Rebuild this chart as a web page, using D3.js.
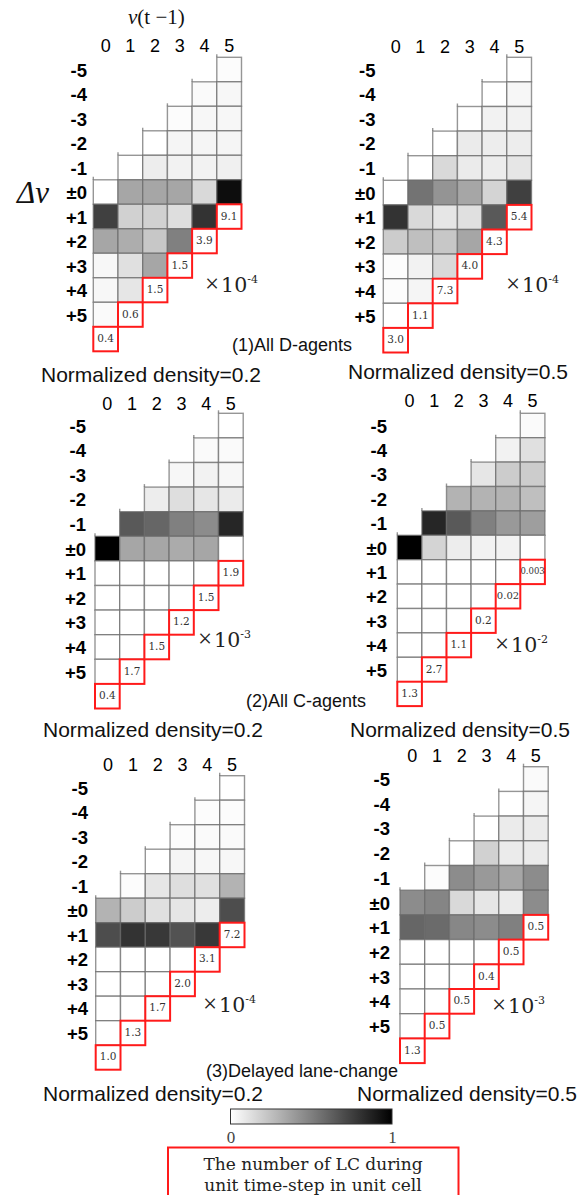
<!DOCTYPE html>
<html><head><meta charset="utf-8">
<script src="https://cdn.jsdelivr.net/npm/d3@7"></script>
<style>body{margin:0;background:#fff} svg{display:block}</style>
</head><body>
<svg id="chart" width="585" height="1195"></svg>
<script>
// ---------- DATA ----------
const vPrev = [0, 1, 2, 3, 4, 5];
const dvRows = [-5, -4, -3, -2, -1, 0, 1, 2, 3, 4, 5, 6];
const dvLabels = {"-5":"-5","-4":"-4","-3":"-3","-2":"-2","-1":"-1","0":"\u00b10","1":"+1","2":"+2","3":"+3","4":"+4","5":"+5","6":""};

// each column c lists normalized cell values for Δv = -c ... 5-c
const dAgents02 = [
  [0.00, 0.75, 0.35, 0.03, 0.03, 0.02],
  [0.00, 0.35, 0.18, 0.32, 0.12, 0.10],
  [0.00, 0.07, 0.35, 0.18, 0.22, 0.35],
  [0.01, 0.04, 0.05, 0.35, 0.13, 0.50],
  [0.02, 0.03, 0.04, 0.05, 0.15, 0.80],
  [0.01, 0.03, 0.03, 0.04, 0.06, 0.95]
];
const dAgents02LC = ["0.4", "0.6", "1.5", "1.5", "3.9", "9.1"];

const dAgents05 = [
  [0.00, 0.80, 0.20, 0.01, 0.01, 0.00],
  [0.00, 0.55, 0.15, 0.25, 0.05, 0.04],
  [0.00, 0.15, 0.42, 0.10, 0.22, 0.15],
  [0.00, 0.08, 0.08, 0.35, 0.12, 0.35],
  [0.00, 0.05, 0.07, 0.07, 0.17, 0.65],
  [0.00, 0.03, 0.05, 0.07, 0.10, 0.75]
];
const dAgents05LC = ["3.0", "1.1", "7.3", "4.0", "4.3", "5.4"];

const cAgents02 = [
  [1.00, 0.00, 0.00, 0.00, 0.00, 0.00],
  [0.65, 0.35, 0.00, 0.00, 0.00, 0.00],
  [0.07, 0.60, 0.35, 0.00, 0.00, 0.00],
  [0.03, 0.13, 0.50, 0.33, 0.00, 0.00],
  [0.02, 0.05, 0.10, 0.45, 0.35, 0.00],
  [0.00, 0.02, 0.03, 0.08, 0.85, 0.00]
];
const cAgents02LC = ["0.4", "1.7", "1.5", "1.2", "1.5", "1.9"];

const cAgents05 = [
  [1.00, 0.00, 0.00, 0.00, 0.00, 0.00],
  [0.85, 0.17, 0.00, 0.00, 0.00, 0.00],
  [0.30, 0.65, 0.07, 0.00, 0.00, 0.00],
  [0.10, 0.30, 0.50, 0.05, 0.00, 0.00],
  [0.05, 0.20, 0.30, 0.40, 0.05, 0.00],
  [0.02, 0.12, 0.20, 0.25, 0.38, 0.00]
];
const cAgents05LC = ["1.3", "2.7", "1.1", "0.2", "0.02", "0.003"];

const delayed02 = [
  [0.30, 0.70, 0.00, 0.00, 0.00, 0.00],
  [0.01, 0.20, 0.80, 0.00, 0.00, 0.00],
  [0.00, 0.10, 0.12, 0.78, 0.00, 0.00],
  [0.01, 0.04, 0.13, 0.10, 0.68, 0.00],
  [0.01, 0.02, 0.03, 0.12, 0.07, 0.78],
  [0.00, 0.01, 0.02, 0.03, 0.30, 0.70]
];
const delayed02LC = ["1.0", "1.3", "1.7", "2.0", "3.1", "7.2"];

const delayed05 = [
  [0.45, 0.60, 0.00, 0.00, 0.00, 0.00],
  [0.01, 0.48, 0.58, 0.00, 0.00, 0.00],
  [0.00, 0.45, 0.15, 0.47, 0.00, 0.00],
  [0.00, 0.18, 0.40, 0.10, 0.45, 0.00],
  [0.00, 0.08, 0.08, 0.35, 0.08, 0.50],
  [0.02, 0.04, 0.08, 0.08, 0.45, 0.45]
];
const delayed05LC = ["1.3", "0.5", "0.5", "0.4", "0.5", "0.5"];

const exponents = ["-4", "-4", "-3", "-2", "-4", "-3"];
const groupTitles = ["(1)All D-agents", "(2)All C-agents", "(3)Delayed lane-change"];
const densityLabels = ["Normalized density=0.2", "Normalized density=0.5"];
const colorbarTicks = [0, 1];
const legendLines = ["The number of LC during", "unit time-step in unit cell"];

// ---------- LAYOUT ----------
const panels = [
  {values: dAgents02, lc: dAgents02LC, x0: 93.3, y0: 57.3, cw: 24.7, ch: 24.5, colY: 52, rowX: 87, noteX: 205, noteY: 292},
  {values: dAgents05, lc: dAgents05LC, x0: 383.3, y0: 57.3, cw: 24.7, ch: 24.6, colY: 53, rowX: 375.5, noteX: 506, noteY: 292},
  {values: cAgents02, lc: cAgents02LC, x0: 95, y0: 413.3, cw: 24.7, ch: 24.6, colY: 410, rowX: 86, noteX: 198, noteY: 647},
  {values: cAgents05, lc: cAgents05LC, x0: 397.3, y0: 413.3, cw: 24.6, ch: 24.4, colY: 407, rowX: 387, noteX: 495, noteY: 652},
  {values: delayed02, lc: delayed02LC, x0: 95.7, y0: 775.7, cw: 24.8, ch: 24.5, colY: 771, rowX: 88, noteX: 203, noteY: 1012},
  {values: delayed05, lc: delayed05LC, x0: 400, y0: 766.7, cw: 24.7, ch: 24.7, colY: 762, rowX: 390, noteX: 492, noteY: 1013}
];

const svg = d3.select("#chart");
const color = d3.scaleLinear().domain([0, 1]).range(["#ffffff", "#000000"]);
const SANS = "'Liberation Sans', Arial, sans-serif";
const SERIF = "'DejaVu Serif', serif";
const SERIF2 = "'Liberation Serif', 'Times New Roman', serif";

panels.forEach((p, pi) => {
  const g = svg.append("g");
  const x = d3.scaleBand().domain(vPrev).range([p.x0, p.x0 + 6 * p.cw]);
  const y = d3.scaleBand().domain(dvRows).range([p.y0, p.y0 + 12 * p.ch]);

  const cells = [];
  p.values.forEach((col, c) => col.forEach((v, i) => cells.push({c: c, dv: i - c, v: v})));

  g.selectAll("rect.cell").data(cells).join("rect")
    .attr("class", "cell")
    .attr("x", d => x(d.c)).attr("y", d => y(d.dv))
    .attr("width", x.bandwidth()).attr("height", y.bandwidth())
    .attr("fill", d => color(d.v))
    .attr("stroke", "#6a6a6a").attr("stroke-width", 1.4).attr("stroke-opacity", 0.7);

  // small overshoot at top-left corners of the stair steps
  g.selectAll("line.os").data(vPrev).join("line")
    .attr("class", "os")
    .attr("x1", c => x(c)).attr("x2", c => x(c))
    .attr("y1", c => y(-c) - 3).attr("y2", c => y(-c))
    .attr("stroke", "#6a6a6a").attr("stroke-width", 1.4).attr("stroke-opacity", 0.7);

  // red LC boxes
  const lc = p.lc.map((t, c) => ({c: c, dv: 6 - c, t: t}));
  g.selectAll("rect.lc").data(lc).join("rect")
    .attr("class", "lc")
    .attr("x", d => x(d.c)).attr("y", d => y(d.dv))
    .attr("width", x.bandwidth()).attr("height", y.bandwidth())
    .attr("fill", "#fff").attr("stroke", "#ff1a1a").attr("stroke-width", 2);
  g.selectAll("text.lc").data(lc).join("text")
    .attr("class", "lc")
    .attr("x", d => x(d.c) + x.bandwidth() / 2)
    .attr("y", d => y(d.dv) + y.bandwidth() / 2 - 1)
    .attr("text-anchor", "middle").attr("dominant-baseline", "central")
    .attr("font-family", SERIF)
    .attr("font-size", d => d.t.length > 4 ? 8.5 : (d.t.length > 3 ? 10 : 10.5))
    .attr("fill", "#333")
    .text(d => d.t);

  // column axis
  const ax = g.append("g").attr("transform", `translate(0,${p.colY})`)
    .call(d3.axisTop(x).tickSize(0).tickPadding(0));
  ax.select(".domain").remove();
  ax.selectAll("text").attr("font-family", SANS).attr("font-size", 18).attr("fill", "#000");

  // row axis
  const ay = g.append("g").attr("transform", `translate(${p.rowX},0)`)
    .call(d3.axisLeft(y).tickSize(0).tickPadding(0).tickFormat(d => dvLabels[d]));
  ay.select(".domain").remove();
  ay.selectAll("text").attr("font-family", SANS).attr("font-size", 18.5)
    .attr("font-weight", "bold").attr("fill", "#000").attr("dy", "0.38em");

  // ×10^n note
  const note = g.append("text").attr("x", p.noteX).attr("y", p.noteY)
    .attr("font-family", SERIF).attr("fill", "#222");
  note.append("tspan").attr("font-family", SERIF2).attr("font-size", 25).attr("font-weight", 300).text("\u00d7");
  note.append("tspan").attr("font-size", 20.5).attr("dx", 2).text("10");
  note.append("tspan").attr("font-size", 11).attr("dy", -9).text(exponents[pi]);
});

// axis titles (panel 1)
const vt = svg.append("text").attr("x", 128).attr("y", 24).attr("font-family", SERIF2).attr("font-size", 21).attr("fill", "#111");
vt.append("tspan").attr("font-style", "italic").text("v");
vt.append("tspan").text("(t \u22121)");
svg.append("text").attr("x", 17).attr("y", 203).attr("font-family", SERIF2)
  .attr("font-style", "italic").attr("font-size", 31).attr("fill", "#111").text("\u0394v");

// group titles
const titlePos = [[232, 351], [246, 707], [206, 1077]];
groupTitles.forEach((t, i) => svg.append("text").attr("x", titlePos[i][0]).attr("y", titlePos[i][1])
  .attr("font-family", SANS).attr("font-size", 18).attr("fill", "#111").text(t));

// density labels
const densPos = [[41, 382, 0], [348, 379, 1], [43, 737, 0], [350, 737, 1], [43, 1101, 0], [357, 1101, 1]];
densPos.forEach(d => svg.append("text").attr("x", d[0]).attr("y", d[1])
  .attr("font-family", SANS).attr("font-size", 21).attr("fill", "#111").text(densityLabels[d[2]]));

// colorbar
const defs = svg.append("defs");
const grad = defs.append("linearGradient").attr("id", "cb").attr("x1", "0%").attr("x2", "100%");
d3.range(0, 1.01, 0.1).forEach(t => grad.append("stop").attr("offset", (t * 100) + "%").attr("stop-color", color(t)));
const cbx = d3.scaleLinear().domain([0, 1]).range([230.5, 392]);
svg.append("rect").attr("x", cbx(0)).attr("y", 1109).attr("width", cbx(1) - cbx(0)).attr("height", 15)
  .attr("fill", "url(#cb)").attr("stroke", "#333").attr("stroke-width", 1);
const cba = svg.append("g").attr("transform", "translate(0,1130)")
  .call(d3.axisBottom(cbx).tickValues(colorbarTicks).tickSize(0).tickPadding(0).tickFormat(d3.format("d")));
cba.select(".domain").remove();
cba.selectAll("text").attr("font-family", SERIF2).attr("font-size", 17).attr("fill", "#444").attr("dy", "0.78em");

// legend box
svg.append("rect").attr("x", 168).attr("y", 1147.5).attr("width", 290.5).attr("height", 52)
  .attr("fill", "#fff").attr("stroke", "#ff1a1a").attr("stroke-width", 2);
legendLines.forEach((t, i) => svg.append("text").attr("x", 313).attr("y", 1169.5 + i * 21.5)
  .attr("text-anchor", "middle").attr("font-family", SERIF).attr("font-size", 17).attr("fill", "#222").text(t));
</script>
</body></html>
